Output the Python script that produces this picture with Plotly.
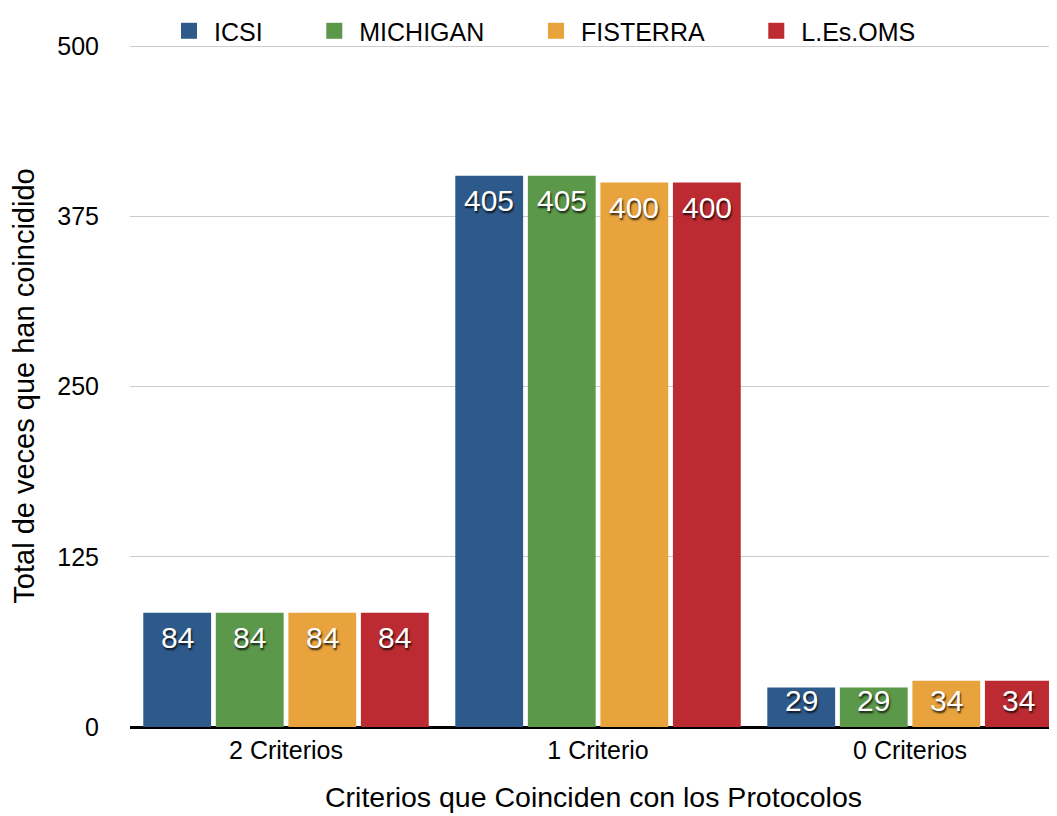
import plotly.graph_objects as go

categories = ["2 Criterios", "1 Criterio", "0 Criterios"]
series_names = ["ICSI", "MICHIGAN", "FISTERRA", "L.Es.OMS"]
icsi = [84, 405, 29]
michigan = [84, 405, 29]
fisterra = [84, 400, 34]
les_oms = [84, 400, 34]
y_ticks = [0, 125, 250, 375, 500]

colors = ["#2E5A8B", "#5C9849", "#E8A33C", "#BC2B31"]
values = [icsi, michigan, fisterra, les_oms]

FONT = "Liberation Sans, Arial, Helvetica, sans-serif"
W, H = 1049, 808
ML, MR, MT, MB = 122, 0, 35, 89
X_RANGE = [-0.5, 2.471]
Y_RANGE = [0, 501]
BARGAP = 0.07
BARGROUPGAP = 0.065

plot_w = W - ML - MR
plot_h = H - MT - MB
px_per_cat = plot_w / (X_RANGE[1] - X_RANGE[0])
px_per_unit = plot_h / (Y_RANGE[1] - Y_RANGE[0])
slot = px_per_cat * (1 - BARGAP) / len(series_names)

fig = go.Figure()
for name, vals, col in zip(series_names, values, colors):
    fig.add_trace(go.Bar(
        x=categories, y=vals, name=name, showlegend=False,
        marker=dict(color=col, line=dict(width=0)),
    ))
# legend entries with large square swatches
for name, col in zip(series_names, colors):
    fig.add_trace(go.Scatter(
        x=[None], y=[None], mode="markers", name=name + "\u00a0" * 6,
        marker=dict(symbol="square", size=21, color=col),
    ))

annotations = []
for i, (vals, col) in enumerate(zip(values, colors)):
    for cat, v in zip(categories, vals):
        y_lab = max(v - 25 / px_per_unit, 27 / px_per_unit)
        annotations.append(dict(
            x=cat, y=y_lab, xref="x", yref="y", text=str(v), showarrow=False,
            xshift=(i - (len(series_names) - 1) / 2) * slot,
            xanchor="center", yanchor="middle",
            font=dict(family=FONT, size=30, color="white",
                      shadow="1px 2px 2px rgba(0,0,0,0.8)"),
        ))
# x-axis title
annotations.append(dict(
    x=0.5, y=-(797 - 727) / plot_h, xref="paper", yref="paper",
    text="Criterios que Coinciden con los Protocolos", showarrow=False,
    xanchor="center", yanchor="middle", font=dict(family=FONT, size=28.5, color="black"),
))

fig.update_layout(
    width=W, height=H,
    margin=dict(l=ML, r=MR, t=MT, b=MB),
    paper_bgcolor="white", plot_bgcolor="white",
    barmode="group", bargap=BARGAP, bargroupgap=BARGROUPGAP,
    font=dict(family=FONT, size=25, color="black"),
    annotations=annotations,
    legend=dict(orientation="h", x=(182 - 130 - 18) / plot_w, xanchor="left",
                y=1 + 14 / plot_h, yanchor="middle", itemsizing="trace", itemwidth=40,
                font=dict(size=25), bgcolor="rgba(0,0,0,0)"),
    xaxis=dict(range=X_RANGE, showgrid=False, ticks="", showline=False,
               tickfont=dict(size=25), ticklabelstandoff=6),
    yaxis=dict(range=Y_RANGE, tickvals=y_ticks, showgrid=True, gridcolor="#CCCCCC", gridwidth=1,
               zeroline=True, zerolinecolor="black", zerolinewidth=2.5,
               tickfont=dict(size=25), ticklabelstandoff=30,
               title=dict(text="Total de veces que han coincidido",
                          font=dict(size=29), standoff=18)),
)

fig.write_html("out.html")
